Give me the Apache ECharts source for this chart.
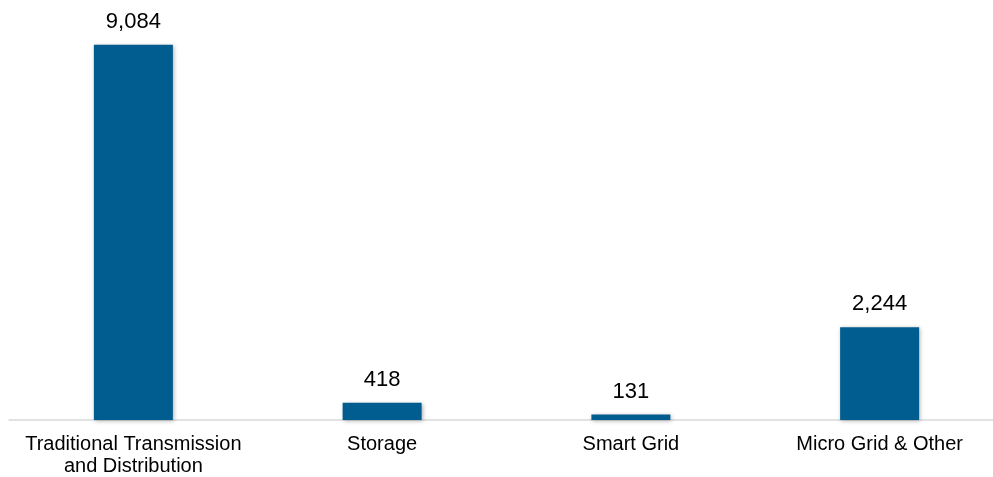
<!DOCTYPE html>
<html>
<head>
<meta charset="utf-8">
<script src="https://cdn.jsdelivr.net/npm/echarts@6/dist/echarts.min.js"></script>
<style>
html,body{margin:0;padding:0;background:#fff;}
#c{width:993px;height:477px;}
</style>
</head>
<body>
<div id="c"></div>
<script>
var categories = ['Traditional Transmission\nand Distribution', 'Storage', 'Smart Grid', 'Micro Grid & Other'];
var values = [9084, 418, 131, 2244];

var chart = echarts.init(document.getElementById('c'));
chart.setOption({
  animation: false,
  grid: { left: 9, width: 995, top: 7, bottom: 57, containLabel: false, outerBoundsMode: 'none' },
  xAxis: {
    type: 'category',
    data: categories,
    axisLine: { show: true, lineStyle: { color: '#d9d9d9', width: 1.5 } },
    axisTick: { show: false },
    axisLabel: {
      color: '#000',
      fontFamily: 'Liberation Sans, Arial, sans-serif',
      fontSize: 20,
      lineHeight: 22,
      margin: 13,
      interval: 0
    }
  },
  yAxis: {
    type: 'value',
    min: 0,
    max: 10000,
    show: false,
    splitLine: { show: false }
  },
  series: [{
    type: 'bar',
    data: values,
    barWidth: 79,
    itemStyle: {
      color: '#015C8F',
      shadowColor: 'rgba(0,0,0,0.3)',
      shadowBlur: 4,
      shadowOffsetX: 1,
      shadowOffsetY: 1
    },
    label: {
      show: true,
      position: 'top',
      distance: 12,
      color: '#000',
      fontFamily: 'Liberation Sans, Arial, sans-serif',
      fontSize: 22,
      formatter: function (p) { return p.value.toLocaleString('en-US'); }
    }
  }]
});
</script>
</body>
</html>
